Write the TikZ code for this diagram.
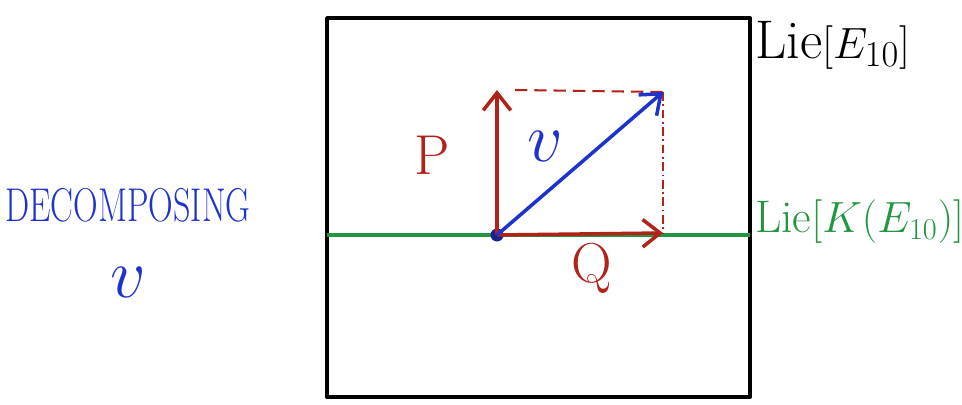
\documentclass[tikz,border=0pt]{standalone}
\usepackage{amsmath}
\usepackage{graphicx}
\usepackage{tikz}
\usetikzlibrary{arrows.meta,positioning}
\definecolor{penred}{RGB}{175,35,25}
\definecolor{penblue}{RGB}{30,50,205}
\definecolor{pengreen}{RGB}{35,150,65}
\tikzset{
    frame/.style={draw=black, line width=2.2pt, line join=round},
    vec/.style={draw, line width=2pt, -{Straight Barb[length=3.5mm, width=5.5mm]}},
    guide/.style={draw=penred, line width=1.2pt, dash pattern=on 7pt off 4pt},
    biglabel/.style={font=\fontsize{26}{30}\selectfont, inner sep=1pt}
}
\newcommand{\bigv}{\scalebox{1.6}{$v$}}
\begin{document}
\begin{tikzpicture}[x=0.02cm, y=-0.02cm]
    \useasboundingbox (0,0) rectangle (962,405);

    % Box
    \coordinate (NW) at (327,18);
    \coordinate (SE) at (750,397);
    \draw[frame] (NW) rectangle (SE);

    % subalgebra line
    \coordinate (Kl) at (327,235);
    \coordinate (Kr) at (750,235);
    \draw[pengreen, line width=2pt] (Kl) -- (Kr);

    % Nodes
    \node[circle, fill=penblue!70!black, inner sep=0pt, minimum size=2.6mm] (O) at (497,235) {};
    \coordinate (Ptip) at (497,90);
    \coordinate (Qtip) at (663,233);
    \coordinate (Vtip) at (663,92);

    % edges
    \draw[guide] (Ptip) ++(18,0) -- (Vtip);
    \draw[guide, dash pattern=on 5pt off 2pt on 1pt off 2pt, line width=0.7pt] (Vtip) -- (Qtip);
    \draw[vec, penred] (O.center) -- (Ptip);
    \draw[vec, penred] (O.center) -- (Qtip);
    \draw[vec, penblue] (O.center) -- (Vtip);

    % labels
    \node[biglabel, text=penred, font=\fontsize{32}{36}\selectfont] (P) at (432,155) {P};
    \node[biglabel, text=penred, font=\fontsize{32}{36}\selectfont] (Q) at (592,268) {Q};
    \node[biglabel, text=penblue] (v) at (545,146) {\bigv};
    \node[biglabel, anchor=west, font=\fontsize{31}{36}\selectfont] (LieE) at (753,45) {Lie$[E_{10}]$};
    \node[biglabel, anchor=west, text=pengreen] (LieK) at (753,222) {Lie$[K(E_{10})]$};
    \node[font=\fontsize{27}{30}\selectfont, text=penblue] (dec) at (128,205) {\scalebox{0.72}[1]{DECOMPOSING}};
    \node[biglabel, text=penblue, below=44pt of dec.center, anchor=center] (vv) {\bigv};
\end{tikzpicture}
\end{document}
